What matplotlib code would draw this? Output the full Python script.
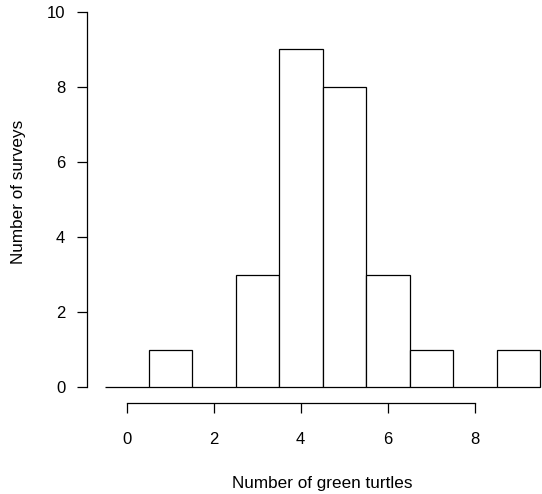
import matplotlib as mpl
from matplotlib import pyplot as plt

mpl.rcParams['font.family'] = ['Liberation Sans', 'DejaVu Sans']

turtles = [0, 1, 2, 3, 4, 5, 6, 7, 8, 9]
surveys = [0, 1, 0, 3, 9, 8, 3, 1, 0, 1]
xticks = [0, 2, 4, 6, 8]
yticks = [0, 2, 4, 6, 8, 10]

fig = plt.figure(figsize=(5.42, 4.94), dpi=100)
ax = fig.add_axes([105 / 542, (494 - 387) / 494, 435 / 542, 375 / 494])

bars = ax.bar(turtles, surveys, width=1, color='white', edgecolor='black', linewidth=0.9)
for b in bars:
    b.set_clip_on(False)

ax.set_xlim(-0.5, 9.5)
ax.set_ylim(0, 10)
ax.set_xticks(xticks)
ax.set_yticks(yticks)

for s in ['top', 'right']:
    ax.spines[s].set_visible(False)
ax.spines['left'].set_position(('outward', 13))
ax.spines['bottom'].set_position(('outward', 11.5))
ax.spines['left'].set_bounds(0, 10)
ax.spines['bottom'].set_bounds(0, 8)
for s in ['left', 'bottom']:
    ax.spines[s].set_linewidth(0.9)

ax.tick_params(axis='y', length=7.2, width=0.9, pad=8.5, labelsize=12)
ax.tick_params(axis='x', length=7.2, width=0.9, pad=13.5, labelsize=12)

ax.set_xlabel('Number of green turtles', fontsize=12.3, labelpad=21)
ax.set_ylabel('Number of surveys', fontsize=12.3)
ax.yaxis.set_label_coords(-0.181, 0.52)

plt.savefig('out.png', dpi=100)
